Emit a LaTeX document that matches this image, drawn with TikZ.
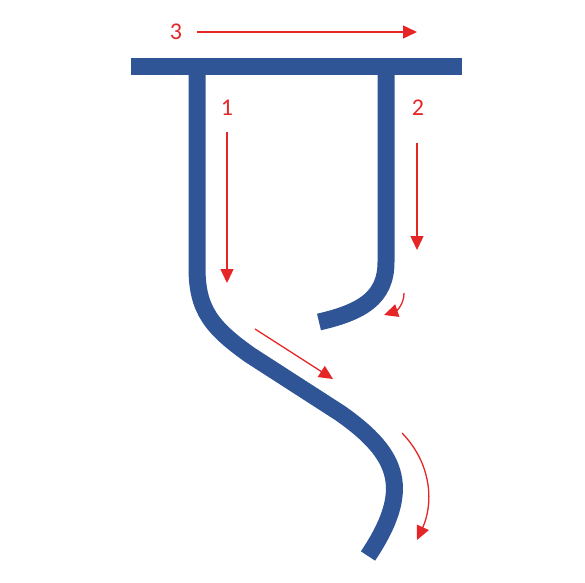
\documentclass[tikz,border=0pt]{standalone}
\usepackage{fontspec}
\setmainfont{Carlito}
\usetikzlibrary{arrows.meta,positioning}
\definecolor{strokeblue}{RGB}{47,85,151}
\definecolor{arrowred}{RGB}{230,38,38}

\begin{document}
\begin{tikzpicture}[
		x=1pt, y=-1pt,
		every node/.style={font=\fontsize{24}{24}\selectfont, text=arrowred},
		stroke/.style={draw=strokeblue, line width=17pt},
		hint/.style={draw=arrowred, line width=1.3pt, -{Triangle[length=14pt,width=13pt]}}
		]
		
		\useasboundingbox (0,0) rectangle (585,582);
		
		% Top bar
		\draw[stroke] (131,66) -- (462,66);
		
		% Left stroke
		\draw[stroke] (197,66) -- (197,268)
		.. controls (197,310) and (212,328) .. (250,355)
		-- (340,413)
		.. controls (400,455) and (412,490) .. (368,556);
		
		% Right stroke
		\draw[stroke] (386,66) -- (386,262)
		.. controls (386,298) and (362,312) .. (319,322);
		
		% Labels
		\node (n3) at (176,32) {3};
		\node (n1) at (227,108) {1};
		\node (n2) at (418,108) {2};
		
		% Arrow ends
		\coordinate (a3s) at (197,32);
		\coordinate (a3e) at (417,32);
		\coordinate (a1s) at (227,132);
		\coordinate (a1e) at (227,283);
		\coordinate (a2s) at (417,143);
		\coordinate (a2e) at (417,250);
		\coordinate (a4s) at (404,293);
		\coordinate (a4e) at (384,315);
		\coordinate (a5s) at (255,329);
		\coordinate (a5e) at (333,379);
		\coordinate (a6s) at (402,433);
		\coordinate (a6e) at (417,540);
		
		% Arrows
		\draw[hint] (a3s) -- (a3e);
		\draw[hint] (a1s) -- (a1e);
		\draw[hint] (a2s) -- (a2e);
		\draw[hint] (a4s) .. controls (404,305) and (396,311) .. (a4e);
		\draw[hint] (a5s) -- (a5e);
		\draw[hint] (a6s) .. controls (433,465) and (433,505) .. (a6e);
		
	\end{tikzpicture}
\end{document}
